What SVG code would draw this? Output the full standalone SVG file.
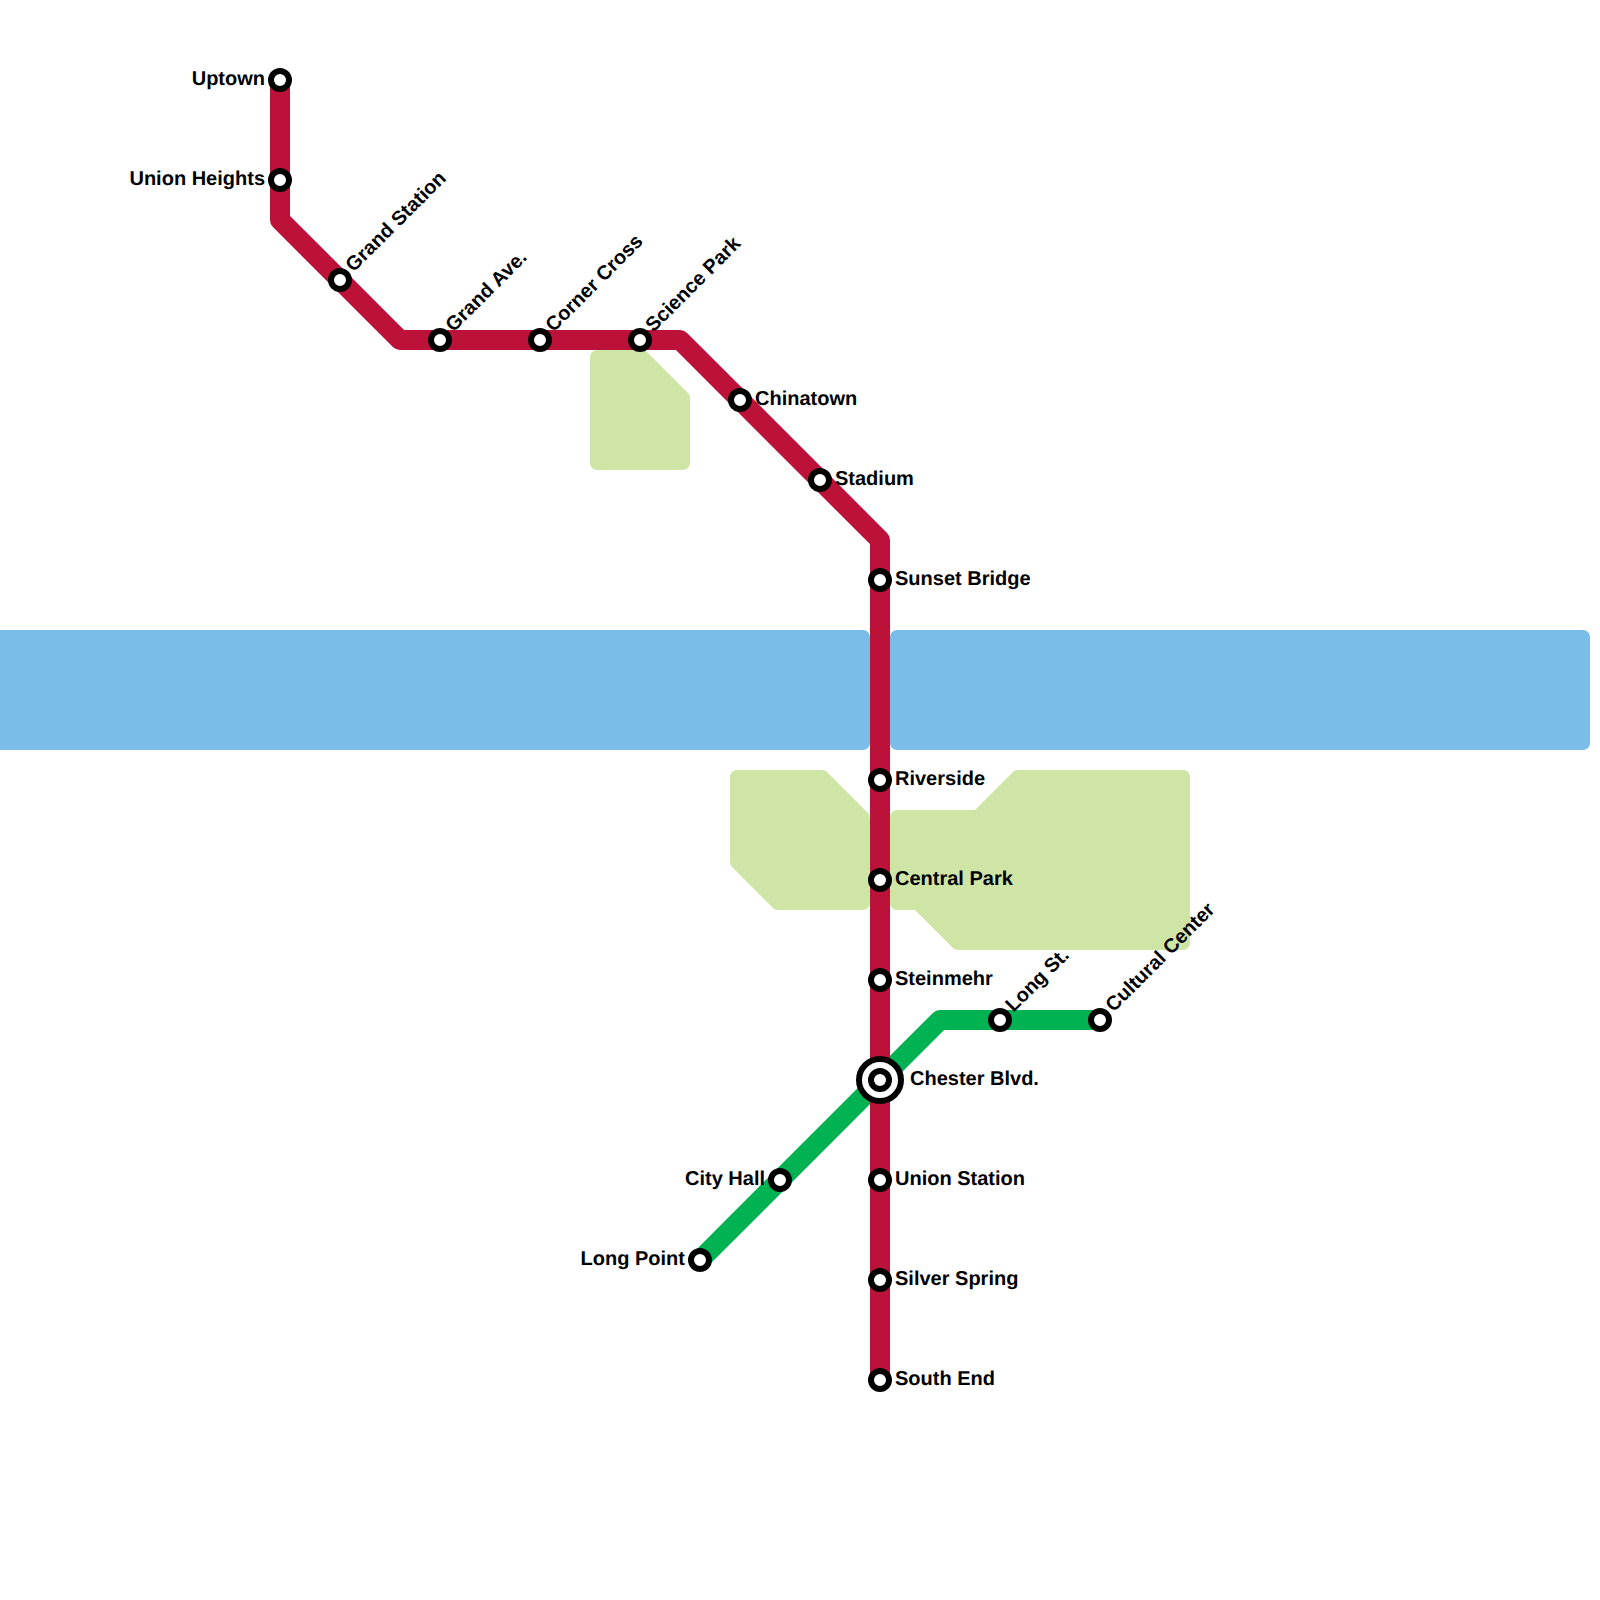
<svg xmlns="http://www.w3.org/2000/svg" width="1600" height="1600" viewBox="0 0 1600 1600">
<style>
.water{fill:#7abde8}
.park{fill:#cfe5a6}
.line{fill:none;stroke-width:20;stroke-linejoin:round;stroke-linecap:butt}
.red{stroke:#bc1138}
.green{stroke:#00b251}
.st{fill:#fff;stroke:#000;stroke-width:6}
text{font-family:"Liberation Sans",Arial,sans-serif;font-weight:700;font-size:20px;fill:#000;text-rendering:geometricPrecision}
.e{text-anchor:end}
</style>
<rect width="1600" height="1600" fill="#fff"/>
<g id="background">
<path class="water" d="M-10 630H863A7 7 0 0 1 870 637V743A7 7 0 0 1 863 750H-10Z"/>
<path class="water" d="M897 630H1583A7 7 0 0 1 1590 637V743A7 7 0 0 1 1583 750H897A7 7 0 0 1 890 743V637A7 7 0 0 1 897 630Z"/>
<path class="park" d="M597 350H645L688 393Q690 395 690 398V463A7 7 0 0 1 683 470H597A7 7 0 0 1 590 463V357A7 7 0 0 1 597 350Z"/>
<path class="park" d="M737 770H822Q825 770 827 772L868 813Q870 815 870 818V903A7 7 0 0 1 863 910H778Q775 910 773 908L732 867Q730 865 730 862V777A7 7 0 0 1 737 770Z"/>
<path class="park" d="M897 810H975L1013 772Q1015 770 1018 770H1183A7 7 0 0 1 1190 777V943A7 7 0 0 1 1183 950H958Q955 950 953 948L915 910H897A7 7 0 0 1 890 903V817A7 7 0 0 1 897 810Z"/>
</g>
<g id="connectors">
<path class="line green" d="M1100 1020H940L700 1260"/>
<path class="line red" d="M280 80V220L400 340H680L880 540V1380"/>
</g>
<g id="uptown"><circle class="st" cx="280" cy="80" r="9"/><text class="e" x="265" y="85">Uptown</text></g>
<g id="union-heights"><circle class="st" cx="280" cy="180" r="9"/><text class="e" x="265" y="185">Union Heights</text></g>
<g id="grand-station"><circle class="st" cx="340" cy="280" r="9"/><text transform="translate(353.6 272.8) rotate(-45)">Grand Station</text></g>
<g id="grand-ave"><circle class="st" cx="440" cy="340" r="9"/><text transform="translate(453.6 332.8) rotate(-45)">Grand Ave.</text></g>
<g id="corner-cross"><circle class="st" cx="540" cy="340" r="9"/><text transform="translate(553.6 332.8) rotate(-45)">Corner Cross</text></g>
<g id="science-park"><circle class="st" cx="640" cy="340" r="9"/><text transform="translate(653.6 332.8) rotate(-45)">Science Park</text></g>
<g id="chinatown"><circle class="st" cx="740" cy="400" r="9"/><text x="755" y="405">Chinatown</text></g>
<g id="stadium"><circle class="st" cx="820" cy="480" r="9"/><text x="835" y="485">Stadium</text></g>
<g id="sunset-bridge"><circle class="st" cx="880" cy="580" r="9"/><text x="895" y="585">Sunset Bridge</text></g>
<g id="riverside"><circle class="st" cx="880" cy="780" r="9"/><text x="895" y="785">Riverside</text></g>
<g id="central-park"><circle class="st" cx="880" cy="880" r="9"/><text x="895" y="885">Central Park</text></g>
<g id="steinmehr"><circle class="st" cx="880" cy="980" r="9"/><text x="895" y="985">Steinmehr</text></g>
<g id="chester-blvd"><circle class="st" cx="880" cy="1080" r="21"/><circle class="st" cx="880" cy="1080" r="9"/><text x="910" y="1085">Chester Blvd.</text></g>
<g id="union-station"><circle class="st" cx="880" cy="1180" r="9"/><text x="895" y="1185">Union Station</text></g>
<g id="silver-spring"><circle class="st" cx="880" cy="1280" r="9"/><text x="895" y="1285">Silver Spring</text></g>
<g id="south-end"><circle class="st" cx="880" cy="1380" r="9"/><text x="895" y="1385">South End</text></g>
<g id="long-st"><circle class="st" cx="1000" cy="1020" r="9"/><text transform="translate(1013.6 1012.8) rotate(-45)">Long St.</text></g>
<g id="cultural-center"><circle class="st" cx="1100" cy="1020" r="9"/><text transform="translate(1113.6 1012.8) rotate(-45)">Cultural Center</text></g>
<g id="city-hall"><circle class="st" cx="780" cy="1180" r="9"/><text class="e" x="765" y="1185">City Hall</text></g>
<g id="long-point"><circle class="st" cx="700" cy="1260" r="9"/><text class="e" x="685" y="1265">Long Point</text></g>
</svg>
